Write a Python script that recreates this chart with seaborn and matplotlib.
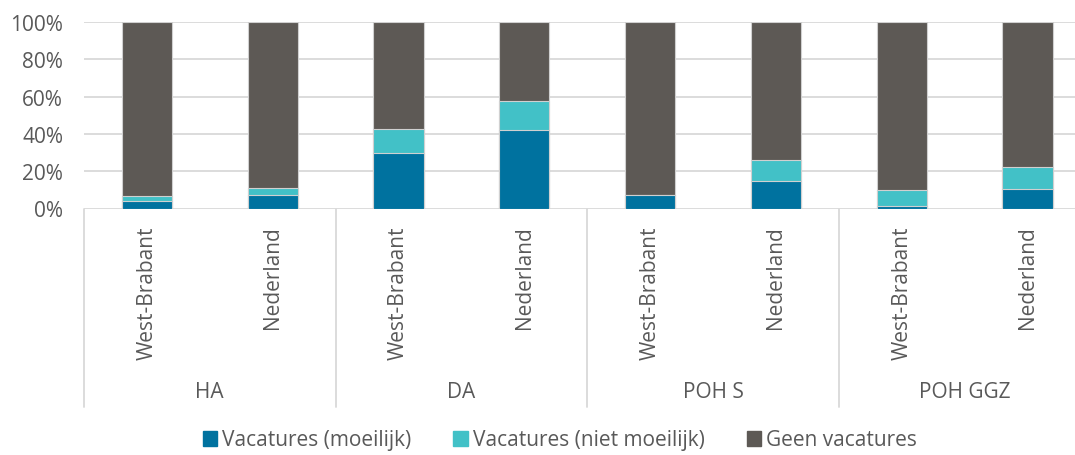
import pandas as pd
import seaborn as sns
import matplotlib.pyplot as plt
from matplotlib.ticker import FuncFormatter
import matplotlib.transforms as mtransforms

sns.set_style("white")
plt.rcParams['font.family'] = ['Open Sans', 'DejaVu Sans']

# === Data (percentages) ===
groups = ["HA", "DA", "POH S", "POH GGZ"]
regions = ["West-Brabant", "Nederland"]
moeilijk = [4.0, 7.5, 29.5, 42.0, 7.5, 15.0, 1.5, 10.5]
niet_moeilijk = [2.5, 3.5, 13.0, 15.5, 0.0, 11.0, 8.5, 11.5]

series = ["Vacatures (moeilijk)", "Vacatures (niet moeilijk)", "Geen vacatures"]
colors = ["#00729f", "#42c1c7", "#5d5955"]

rows = []
for i, g in enumerate(groups):
    for j, r in enumerate(regions):
        k = i * len(regions) + j
        rows.append({"key": f"{g}|{r}", "group": g, "region": r,
                     "moeilijk": moeilijk[k], "niet": niet_moeilijk[k]})
df = pd.DataFrame(rows)
df["geen"] = 100 - df["moeilijk"] - df["niet"]
df["top_teal"] = df["moeilijk"] + df["niet"]
df["top_all"] = df["top_teal"] + df["geen"]
order = list(df["key"])

# === Figure ===
fig = plt.figure(figsize=(10.75, 4.56), dpi=100)
W, H = 1075, 456
x0, y0, y100 = 84, 209.5, 23
ax = fig.add_axes([x0 / W, 1 - y0 / H, (W - x0) / W, (y0 - y100) / H])

txt = "#595959"
grid = "#d9d9d9"
edge = "#d0d0d0"

# stacked bars drawn as layered cumulative bars
for col, c in zip(["top_all", "top_teal", "moeilijk"], colors[::-1]):
    sns.barplot(data=df, x="key", y=col, order=order, color=c, width=0.4,
                edgecolor=edge, linewidth=0.8, saturation=1, ax=ax, zorder=3)

ax.set_ylim(0, 100)
ax.set_xlim(-0.5, (W - x0) / 125.8 - 0.5)
ax.set_yticks(range(0, 101, 20))
ax.yaxis.set_major_formatter(FuncFormatter(lambda v, p: f"{v:.0f}%"))
ax.grid(axis="y", color=grid, linewidth=1.3, zorder=0)
ax.set_axisbelow(True)
for s in ax.spines.values():
    s.set_visible(False)
ax.tick_params(axis="y", length=0, pad=15, labelsize=15, labelcolor=txt)
ax.tick_params(axis="x", length=0, pad=12, labelsize=15, labelcolor=txt)
ax.set_xticks(range(len(order)))
ax.set_xticklabels(df["region"], rotation=90, va="top")
ax.set_xlabel("")
ax.set_ylabel("")

# group separators and group labels below the axis
trans = mtransforms.blended_transform_factory(ax.transData, ax.transAxes)
bottom = -(408 - y0) / (y0 - y100)
for b in [-0.5, 1.5, 3.5, 5.5]:
    ax.plot([b, b], [0, bottom], color=grid, lw=1.3, transform=trans,
            clip_on=False)
label_y = -(393 - y0) / (y0 - y100)
for i, g in enumerate(groups):
    ax.text(i * 2 + 0.5, label_y, g, transform=trans, ha="center",
            va="center", fontsize=15, color=txt)

# legend
handles = [plt.Rectangle((0, 0), 1, 1, color=c) for c in colors]
fig.legend(handles, series, loc="center", bbox_to_anchor=(560 / W, 1 - 441 / H),
           ncol=3, frameon=False, fontsize=15, labelcolor=txt,
           handlelength=0.7, handleheight=0.7, handletextpad=0.25,
           columnspacing=2.0)

fig.savefig("out.png", dpi=100)
